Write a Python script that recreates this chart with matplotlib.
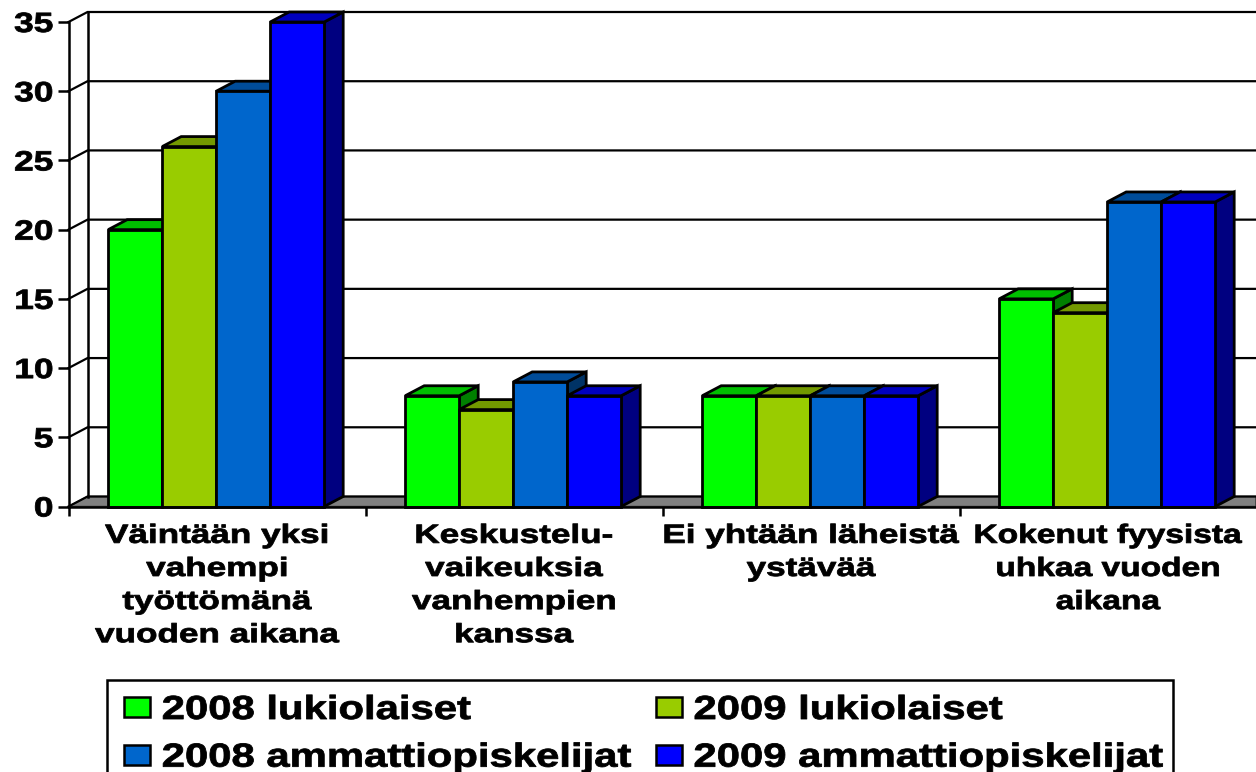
import matplotlib
matplotlib.use("Agg")
import matplotlib.pyplot as plt
from matplotlib.patches import Polygon, Patch, Rectangle
from matplotlib.patheffects import AbstractPathEffect
from matplotlib.transforms import Affine2D

categories = ["Väintään yksi\nvahempi\ntyöttömänä\nvuoden aikana",
              "Keskustelu-\nvaikeuksia\nvanhempien\nkanssa",
              "Ei yhtään läheistä\nystävää",
              "Kokenut fyysista\nuhkaa vuoden\naikana"]
series_names = ["2008 lukiolaiset", "2009 lukiolaiset",
                "2008 ammattiopiskelijat", "2009 ammattiopiskelijat"]
lukio_2008 = [20, 8, 8, 15]
lukio_2009 = [26, 7, 8, 14]
ammatti_2008 = [30, 9, 8, 22]
ammatti_2009 = [35, 8, 8, 22]
yticks = [0, 5, 10, 15, 20, 25, 30, 35]
front = ["#00FF00", "#99CC00", "#0066CC", "#0000FF"]
top = ["#00BF00", "#739900", "#004C99", "#0000BF"]
side = ["#008000", "#4D6600", "#003366", "#000080"]


class StretchX(AbstractPathEffect):
    """Draws a real text object widened horizontally around an anchor, slightly emboldened."""

    def __init__(self, sx, anchor=0.5, bold=0.6):
        super().__init__()
        self.sx, self.anchor, self.bold = sx, anchor, bold

    def draw_path(self, renderer, gc, tpath, affine, rgbFace=None):
        e = tpath.get_extents()
        cx = e.x0 + self.anchor * (e.x1 - e.x0)
        t = Affine2D().translate(-cx, 0).scale(self.sx, 1).translate(cx, 0)
        gc0 = renderer.new_gc()
        gc0.copy_properties(gc)
        gc0.set_linewidth(self.bold)
        gc0.set_foreground("black")
        renderer.draw_path(gc0, tpath, t + affine, rgbFace)
        gc0.restore()


W, H = 1256, 772
X0, Y0, Y35 = 68.5, 506.5, 22.0
CW = 297.0
fig = plt.figure(figsize=(W / 100, H / 100), dpi=100)
ax = fig.add_axes([X0 / W, 1 - Y0 / H, (W - X0) / W, (Y0 - Y35) / H])
ax.set_xlim(0, (W - X0) / CW)
ax.set_ylim(0, 35)
for s in ["top", "right"]:
    ax.spines[s].set_visible(False)
for s in ["left", "bottom"]:
    ax.spines[s].set_linewidth(1.8)
    ax.spines[s].set_zorder(30)

DX = 19 / CW
DY = 10 / ((Y0 - Y35) / 35)
LW = 2.0
KW = dict(edgecolor="black", linewidth=LW, joinstyle="miter", clip_on=False)
xr = ax.get_xlim()[1]

# floor, back wall, gridlines
ax.add_patch(Polygon([(0, 0), (DX, DY), (xr, DY), (xr, 0)], facecolor="#808080",
                     edgecolor="#333333", linewidth=1.0, zorder=1, clip_on=True))
for v in yticks:
    ax.plot([0, DX, xr], [v, v + DY, v + DY], color="black", lw=1.6, zorder=2,
            clip_on=False, solid_joinstyle="miter")
ax.plot([DX, DX], [DY, 35 + DY], color="black", lw=1.8, zorder=2, clip_on=False)

# bars
bw = 1 / 5.5
series = [lukio_2008, lukio_2009, ammatti_2008, ammatti_2009]
z = 3
for c in range(len(categories)):
    for i, vals in enumerate(series):
        v = vals[c]
        x = c + 0.735 * bw + i * bw
        ax.add_patch(Polygon([(x + bw, 0), (x + bw + DX, DY), (x + bw + DX, v + DY), (x + bw, v)],
                             facecolor=side[i], zorder=z, **KW))
        ax.add_patch(Polygon([(x, v), (x + DX, v + DY), (x + bw + DX, v + DY), (x + bw, v)],
                             facecolor=top[i], zorder=z, **KW))
        ax.add_patch(Polygon([(x, 0), (x + bw, 0), (x + bw, v), (x, v)],
                             facecolor=front[i], zorder=z, **KW))
        z += 1

FONT = "Liberation Sans"
ax.set_yticks(yticks)
ax.set_yticklabels([str(v) for v in yticks], fontfamily=FONT, fontweight="bold", fontsize=20)
ax.tick_params(axis="y", length=8, width=1.8, pad=3)
for t in ax.get_yticklabels():
    t.set_path_effects([StretchX(1.27, 1.0)])
ax.set_xticks([0, 1, 2, 3])
ax.set_xticklabels([])
ax.tick_params(axis="x", which="major", length=6.5, width=1.8)
ax.set_xticks([0.5, 1.5, 2.5, 3.5], minor=True)
ax.set_xticklabels(categories, minor=True, fontfamily=FONT, fontweight="bold", fontsize=19,
                   linespacing=1.48, ha="center", va="top")
ax.tick_params(axis="x", which="minor", length=0, pad=12.5)
for t, sx in zip(ax.get_xticklabels(minor=True), [1.33, 1.33, 1.33, 1.27]):
    t.set_path_effects([StretchX(sx, 0.5)])

fig.add_artist(Rectangle((107 / W, -0.02), (1173 - 107) / W, 1 - 680 / H + 0.02,
                         transform=fig.transFigure,
                         facecolor="white", edgecolor="black", linewidth=1.8))
order = [0, 2, 1, 3]
handles = [Patch(facecolor=front[i], edgecolor="black", linewidth=1.8, label=series_names[i])
           for i in order]
leg = fig.legend(handles=handles, ncol=2, loc="upper left",
                 bbox_to_anchor=(124 / W, 1 - 695 / H), bbox_transform=fig.transFigure,
                 prop=dict(family=FONT, weight="bold", size=24),
                 frameon=False, borderaxespad=0, borderpad=0, handlelength=0.78, handleheight=0.57,
                 handletextpad=0.36, columnspacing=3.54, labelspacing=0.5)
for t in leg.get_texts():
    t.set_path_effects([StretchX(1.255, 0.0)])
fig.savefig("out.png", dpi=100)
